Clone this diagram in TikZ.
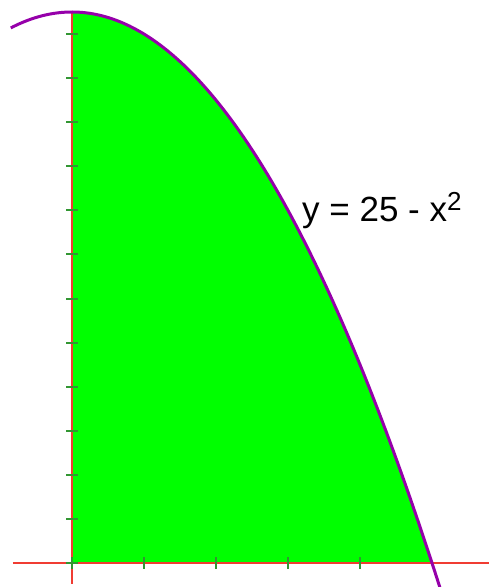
\documentclass[tikz,border=0pt]{standalone}
\usepackage{fontspec}
\setmainfont{Liberation Sans}
\definecolor{fillgreen}{RGB}{0,255,0}
\definecolor{axisred}{RGB}{240,60,50}
\definecolor{tickgreen}{RGB}{50,150,50}
\definecolor{curvepurple}{RGB}{150,0,170}
\tikzset{
  axisline/.style={draw=axisred, line width=2.6pt},
  tickline/.style={draw=tickgreen, line width=2pt},
  curveline/.style={draw=curvepurple, line width=3pt},
}
\begin{document}
\begin{tikzpicture}[x=1pt,y=1pt]
\useasboundingbox (0,0) rectangle (489,587);
\fill[white] (0,0) rectangle (489,587);
\begin{scope}[shift={(72,24)}, x=72pt, y=22.04pt]
  \fill[fillgreen] (0,0) -- plot[domain=0:5, samples=120] (\x,{25-\x*\x}) -- cycle;
  \draw[axisline] (-0.82,0) -- (5.8,0);
  \draw[axisline] (0,-0.95) -- (0,25);
  \foreach \t in {0,2,...,24} \draw[tickline] (-6pt,\t) -- (6pt,\t);
  \foreach \t in {0,1,2,3,4} \draw[tickline] (\t,-6pt) -- (\t,6pt);
  \draw[curveline] plot[domain=-0.85:5.11, samples=160] (\x,{25-\x*\x});
\end{scope}
\node[anchor=base west, inner sep=0pt, font=\fontsize{35}{35}\selectfont] (lbl) at (302,365)
  {y = 25 - x\raisebox{11pt}{\fontsize{26}{26}\selectfont 2}};
\end{tikzpicture}
\end{document}
